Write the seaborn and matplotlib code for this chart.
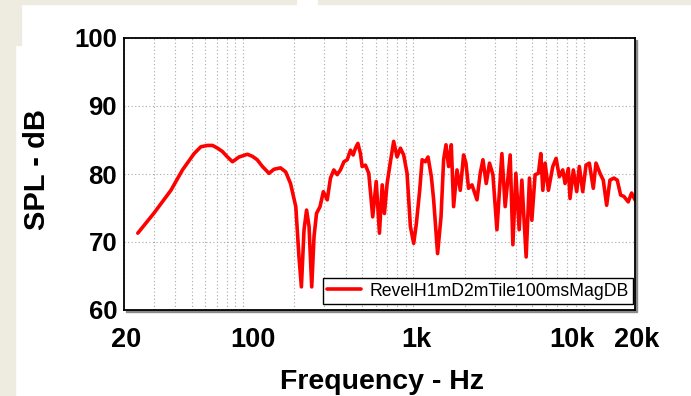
import matplotlib
matplotlib.use("Agg")
import matplotlib.pyplot as plt
from matplotlib.patches import Rectangle
from matplotlib.ticker import LogLocator, NullFormatter, FixedLocator
import matplotlib.transforms as mtransforms
import seaborn as sns
import pandas as pd

# ---- data ----
freq_hz = [24.1, 30.1, 37.7, 44.1, 51.6, 56.5, 61.8, 66.2, 70.8, 75.7, 81, 86.7, 94.7, 106,
           113.5, 121, 130, 142, 152, 166, 178, 190,
           204, 213, 220, 228, 236, 244, 253, 261, 270, 283, 296, 312, 326, 341, 357, 373, 391,
           409, 427, 443, 457, 472, 489, 500, 523, 547, 577, 605, 632, 656, 676, 701, 733, 766,
           802, 839, 877, 918, 960, 1004, 1041, 1089, 1125, 1176, 1219, 1275, 1315, 1387, 1453,
           1505, 1554, 1610, 1669, 1722, 1803, 1885, 1971, 2035, 2108, 2208, 2362, 2468, 2560,
           2677, 2798, 2930, 3093, 3308, 3458, 3700, 3838, 3996, 4178, 4333, 4592, 4802, 4959,
           5184, 5420, 5598, 5752, 5934, 6203, 6582, 6882, 7194, 7532, 7768, 8123, 8310, 8690,
           9098, 9422, 9866, 10316, 10786, 11380, 11804, 12460, 13024, 13634, 14256, 15046,
           15732, 16470, 17220, 18250, 19104, 20000]
spl_db = [71.3, 74.3, 77.6, 80.6, 83.0, 84.0, 84.2, 84.2, 83.8, 83.3, 82.5, 81.8, 82.5, 82.9,
          82.6, 82.1, 81.1, 80.1, 80.7, 80.9, 80.3, 78.6,
          75.2, 67.8, 63.4, 71.8, 74.7, 72.3, 63.4, 70.8, 74.2, 75.2, 77.4, 76.2, 79.4, 80.6, 79.9,
          80.6, 81.8, 82.1, 83.5, 82.8, 83.8, 84.5, 83.0, 81.1, 81.3, 80.1, 73.7, 78.9, 71.3, 78.4,
          74.2, 78.6, 81.8, 84.8, 82.5, 83.8, 82.8, 80.1, 72.3, 69.8, 72.7, 77.6, 82.1, 81.8, 82.5,
          79.6, 76.2, 68.3, 73.7, 82.1, 84.3, 81.1, 84.3, 75.2, 80.6, 77.6, 82.8, 81.6, 77.9, 78.4,
          76.2, 80.1, 82.1, 78.6, 81.6, 79.9, 71.8, 83.0, 75.2, 82.8, 69.6, 80.1, 71.8, 79.1, 67.8,
          79.4, 73.2, 79.9, 80.1, 83.0, 77.6, 81.6, 77.6, 81.1, 82.3, 79.6, 80.6, 78.6, 80.8, 76.4,
          80.6, 77.4, 81.1, 77.4, 81.3, 81.6, 77.9, 81.6, 80.1, 79.1, 75.4, 79.1, 79.4, 79.1, 76.9,
          76.7, 75.9, 77.2, 76.2]
series_name = "RevelH1mD2mTile100msMagDB"
x_tick_values = [20, 100, 1000, 10000, 20000]
x_tick_labels = ["20", "100", "1k", "10k", "20k"]
y_tick_values = [60, 70, 80, 90, 100]
y_tick_labels = ["60", "70", "80", "90", "100"]

df = pd.DataFrame({"freq": freq_hz, "spl": spl_db})

sns.set_theme(style="white")
plt.rcParams["font.family"] = ["Liberation Sans", "DejaVu Sans"]

W, H = 691, 396
fig = plt.figure(figsize=(W / 100, H / 100), dpi=100)
fig.patch.set_facecolor("white")

# beige frame pieces of the original screenshot
beige = "#EEEBE0"
fig.patches.append(Rectangle((0, 0), 15 / W, 1, transform=fig.transFigure, color=beige, zorder=-5))
fig.patches.append(Rectangle((0, 1 - 45 / H), 21 / W, 45 / H, transform=fig.transFigure, color=beige, zorder=-5))
fig.patches.append(Rectangle((0, 1 - 4 / H), 296 / W, 4 / H, transform=fig.transFigure, color=beige, zorder=-5))
fig.patches.append(Rectangle((318 / W, 1 - 4 / H), 1 - 318 / W, 4 / H, transform=fig.transFigure, color=beige, zorder=-5))

L, R, T, B = 124, 635, 38, 310
ax = fig.add_axes([L / W, 1 - B / H, (R - L) / W, (B - T) / H])
ax.set_zorder(3)

# drop shadow right/bottom
fig.patches.append(Rectangle(((L + 2) / W, 1 - (B + 2) / H), (R - L) / W, (B - T) / H,
                             transform=fig.transFigure, color="#8a8a8a", zorder=-4))
ax.set_facecolor("white")

sns.lineplot(data=df, x="freq", y="spl", ax=ax, color="#FF0000", linewidth=2.6,
             label=series_name, estimator=None, sort=False)
for ln in ax.lines:
    ln.set_solid_joinstyle("round")
    ln.set_solid_capstyle("round")

ax.set_xscale("log")
ax.set_xlim(20, 20000)
ax.set_ylim(60, 100)

ax.xaxis.set_major_locator(FixedLocator(x_tick_values))
ax.set_xticklabels(x_tick_labels)
ax.xaxis.set_minor_locator(LogLocator(base=10, subs=[2, 3, 4, 5, 6, 7, 8, 9], numticks=20))
ax.xaxis.set_minor_formatter(NullFormatter())
ax.set_yticks(y_tick_values)
ax.set_yticklabels(y_tick_labels)

ax.tick_params(axis="both", which="both", length=0)
ax.tick_params(axis="x", labelsize=19.5, pad=12)
ax.tick_params(axis="y", labelsize=18.5, pad=5)
for lab in ax.get_xticklabels() + ax.get_yticklabels():
    lab.set_fontweight("bold")
    lab.set_color("black")

# small horizontal offsets of x tick labels as in the original
label_shift_px = {"20": 2, "100": 10, "1k": 3, "10k": -12, "20k": 2}
for lab in ax.get_xticklabels():
    dx = label_shift_px.get(lab.get_text(), 0)
    lab.set_transform(lab.get_transform() + mtransforms.ScaledTranslation(dx / 100, 0, fig.dpi_scale_trans))

grid_kw = dict(color="#a8a8a8", linestyle=(0, (1, 2.2)), linewidth=0.8)
ax.grid(True, axis="x", which="both", **grid_kw)
ax.grid(True, axis="y", which="major", **grid_kw)
ax.set_axisbelow(True)

for side, sp in ax.spines.items():
    sp.set_visible(True)
    sp.set_color("black")
    sp.set_linewidth(1.3)

ax.set_xlabel("Frequency - Hz", fontsize=20.5, fontweight="bold", color="black")
ax.set_ylabel("SPL - dB", fontsize=21, fontweight="bold", color="black")
ax.xaxis.set_label_coords((382 - L) / (R - L), -(382 - B) / (B - T))
ax.xaxis.label.set_verticalalignment("center")
ax.yaxis.set_label_coords(-(L - 37) / (R - L), (B - 170) / (B - T))
ax.yaxis.label.set_verticalalignment("center")

leg = ax.legend(loc="lower right", bbox_to_anchor=((633 - L) / (R - L), (B - 304) / (B - T)),
                borderaxespad=0, frameon=True, fancybox=False, fontsize=12.7,
                handlelength=1.95, handletextpad=0.45, borderpad=0.25)
leg.get_frame().set_edgecolor("black")
leg.get_frame().set_linewidth(1.0)
leg.get_frame().set_facecolor("white")
leg.get_frame().set_alpha(1.0)
for t in leg.get_texts():
    t.set_color("black")

fig.savefig("out.png", dpi=100)
